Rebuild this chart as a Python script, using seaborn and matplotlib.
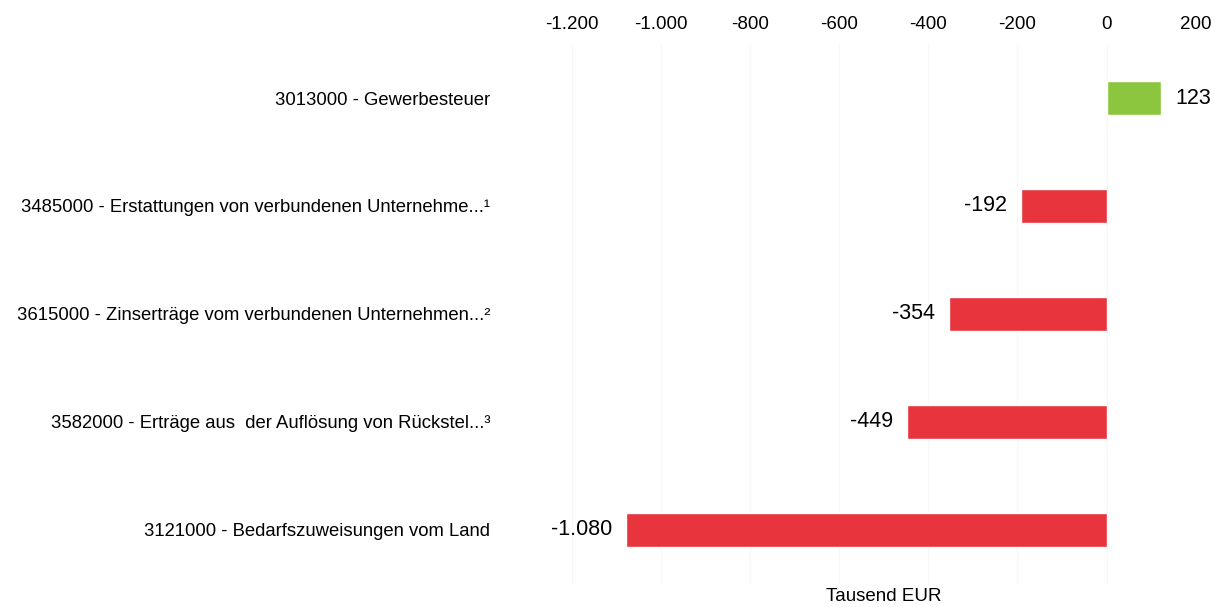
import matplotlib
matplotlib.use("Agg")
import matplotlib.pyplot as plt
import seaborn as sns
import pandas as pd

# Daten
kategorien = [
    "3013000 - Gewerbesteuer",
    "3485000 - Erstattungen von verbundenen Unternehme...¹",
    "3615000 - Zinserträge vom verbundenen Unternehmen...²",
    "3582000 - Erträge aus  der Auflösung von Rückstel...³",
    "3121000 - Bedarfszuweisungen vom Land",
]
werte = [123, -192, -354, -449, -1080]
x_ticks = [-1200, -1000, -800, -600, -400, -200, 0, 200]

df = pd.DataFrame({"Kategorie": kategorien, "Wert": werte})
df["Vorzeichen"] = ["pos" if w >= 0 else "neg" for w in werte]

sns.set_style("white")
plt.rcParams["font.family"] = ["Liberation Sans", "DejaVu Sans"]
plt.rcParams["text.color"] = "black"
plt.rcParams["xtick.color"] = "black"
plt.rcParams["ytick.color"] = "black"
plt.rcParams["axes.labelcolor"] = "black"

fig = plt.figure(figsize=(12.15, 6.07), dpi=100)
ax = fig.add_axes([0.471, 0.038, 0.513, 0.8895])

sns.barplot(data=df, y="Kategorie", x="Wert", hue="Vorzeichen",
            palette={"pos": "#8cc63f", "neg": "#e8343c"}, saturation=1,
            orient="h", width=0.31, dodge=False, legend=False, ax=ax)

# Datenbeschriftung
for cont in ax.containers:
    labels = [f"{v:,.0f}".replace(",", ".") for v in cont.datavalues]
    ax.bar_label(cont, labels=labels, padding=10, fontsize=15.5)

ax.set_xlim(-1200, 200)
ax.set_xticks(x_ticks)
ax.set_xticklabels([f"{t:,}".replace(",", ".") for t in x_ticks], fontsize=13.5)
ax.xaxis.set_ticks_position("top")
ax.xaxis.set_label_position("bottom")
ax.set_xlabel("Tausend EUR", fontsize=13.5, labelpad=3)
ax.set_ylabel("")
ax.tick_params(axis="y", length=0, pad=59, labelsize=13.3)
ax.tick_params(axis="x", length=0, pad=8)

for t in x_ticks:
    ax.axvline(t, color="#f7f7f7", lw=0.8, zorder=0)

for s in ax.spines.values():
    s.set_visible(False)

plt.savefig("out.png", dpi=100)
